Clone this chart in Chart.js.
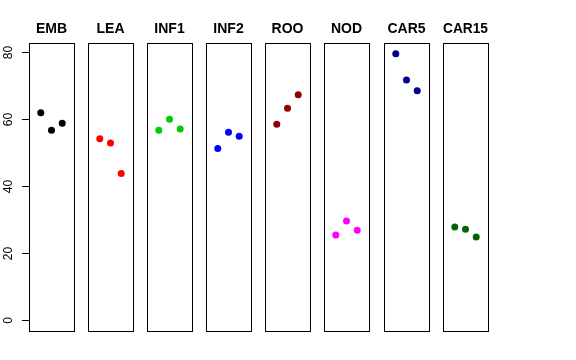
<!DOCTYPE html>
<html>
<head>
<meta charset="utf-8">
<script src="https://cdn.jsdelivr.net/npm/chart.js@4"></script>
<style>
  body { margin: 0; background: #fff; }
  #wrap { position: relative; width: 576px; height: 360px; }
  .panel { position: absolute; top: 0; height: 360px; }
</style>
</head>
<body>
<div id="wrap"></div>
<script>
// groups, one panel each
var groups = ['EMB', 'LEA', 'INF1', 'INF2', 'ROO', 'NOD', 'CAR5', 'CAR15'];
var reps = [1, 2, 3];
var yTicks = [0, 20, 40, 60, 80];

var emb   = [61.8, 56.6, 58.7];
var lea   = [54.1, 52.8, 43.7];
var inf1  = [56.6, 59.9, 57.0];
var inf2  = [51.2, 56.0, 54.8];
var roo   = [58.4, 63.2, 67.2];
var nod   = [25.4, 29.6, 26.8];
var car5  = [79.4, 71.6, 68.4];
var car15 = [27.8, 27.1, 24.8];

var series = [emb, lea, inf1, inf2, roo, nod, car5, car15];
var colors = ['#000000', '#FF0000', '#00CD00', '#0000FF', '#8B0000', '#FF00FF', '#00008B', '#006400'];

var boxLeft = [29, 88, 147, 206, 265, 324, 384, 443];
var boxW = 45;

// frame around each panel + y axis on the first one
var framePlugin = {
  id: 'frame',
  afterDraw: function(chart) {
    var a = chart.chartArea, ctx = chart.ctx;
    ctx.save();
    ctx.strokeStyle = '#000';
    ctx.lineWidth = 1;
    ctx.strokeRect(Math.round(a.left) + 0.5, Math.round(a.top) + 0.5,
                   Math.round(a.right - a.left), Math.round(a.bottom - a.top));
    if (chart.options.plugins.frame && chart.options.plugins.frame.yaxis) {
      var y = chart.scales.y;
      ctx.font = '12px "Liberation Sans", Arial, sans-serif';
      ctx.fillStyle = '#000';
      ctx.textAlign = 'center';
      ctx.textBaseline = 'middle';
      yTicks.forEach(function(t) {
        var py = Math.round(y.getPixelForValue(t)) + 0.5;
        ctx.beginPath();
        ctx.moveTo(a.left, py);
        ctx.lineTo(a.left - 7, py);
        ctx.stroke();
        ctx.save();
        ctx.translate(9, py);
        ctx.rotate(-Math.PI / 2);
        ctx.fillText(String(t), 0, 0);
        ctx.restore();
      });
    }
    ctx.restore();
  }
};

var wrap = document.getElementById('wrap');
groups.forEach(function(name, i) {
  var padL = i === 0 ? boxLeft[0] : 7;
  var left = boxLeft[i] - padL;
  var width = padL + boxW + 7;
  var div = document.createElement('div');
  div.className = 'panel';
  div.style.left = left + 'px';
  div.style.width = width + 'px';
  var cv = document.createElement('canvas');
  div.appendChild(cv);
  wrap.appendChild(div);

  new Chart(cv, {
    type: 'scatter',
    data: {
      datasets: [{
        data: reps.map(function(r, k) { return { x: r, y: series[i][k] }; }),
        backgroundColor: colors[i],
        borderColor: colors[i],
        pointRadius: 3.5,
        pointHoverRadius: 3.5,
        borderWidth: 0
      }]
    },
    options: {
      responsive: true,
      maintainAspectRatio: false,
      animation: false,
      layout: { padding: { left: padL, right: 7, top: 0, bottom: 29 } },
      scales: {
        x: { display: false, min: -0.1, max: 4.1 },
        y: { display: false, min: -3.18, max: 82.6 }
      },
      plugins: {
        legend: { display: false },
        tooltip: { enabled: false },
        frame: { yaxis: i === 0 },
        title: {
          display: true,
          text: name,
          color: '#000',
          font: { family: '"Liberation Sans", Arial, sans-serif', size: 14, weight: 'bold' },
          padding: { top: 21, bottom: 5.2 }
        }
      }
    },
    plugins: [framePlugin]
  });
});
</script>
</body>
</html>
